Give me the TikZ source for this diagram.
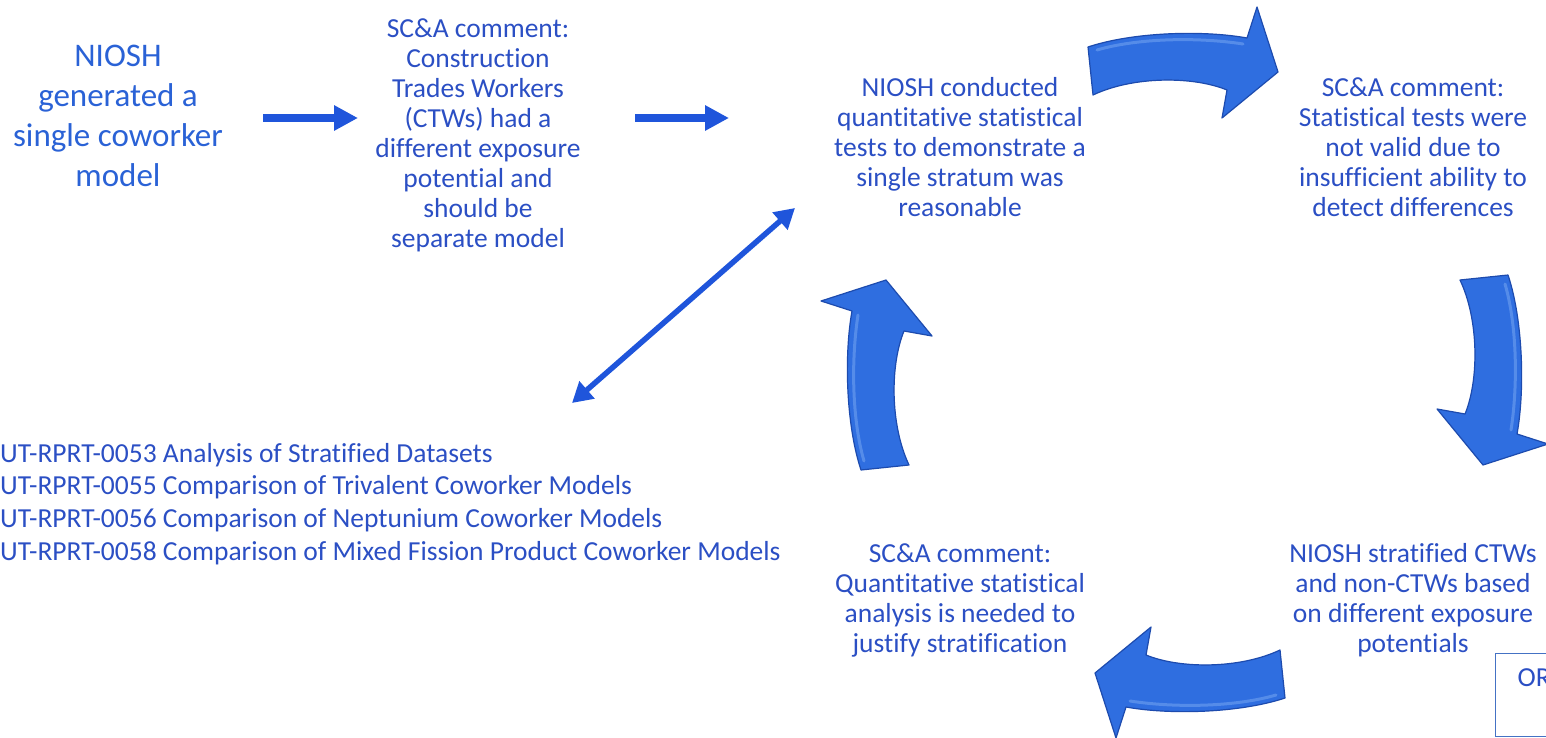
\documentclass[tikz,border=0pt]{standalone}
\usepackage{fontspec}
\setmainfont{Carlito}[Ligatures=NoCommon]
\usetikzlibrary{arrows.meta,positioning}

\definecolor{txtblue}{HTML}{2B4FC4}
\definecolor{headblue}{HTML}{2A62D6}
\definecolor{lineblue}{HTML}{1F55DB}
\definecolor{bandfill}{HTML}{2F6EE0}
\definecolor{bandedge}{HTML}{1D4BAE}
\definecolor{bandlight}{HTML}{6FA0F0}
\definecolor{boxblue}{HTML}{4472C4}

\tikzset{
  stepnote/.style={align=center, text=txtblue, inner sep=0pt,
    font=\fontsize{27.5}{30}\selectfont},
  bignote/.style={align=center, text=headblue, inner sep=0pt,
    font=\fontsize{33}{40}\selectfont},
  flowarrow/.style={draw=lineblue, line width=8pt,
    -{Triangle[length=24pt,width=24pt]}},
  linkarrow/.style={draw=lineblue, line width=5.5pt,
    {Triangle[length=20pt,width=22pt]}-{Triangle[length=20pt,width=22pt]}},
  orbox/.style={draw=boxblue, line width=1.2pt, text=txtblue,
    font=\fontsize{27.5}{30}\selectfont},
  bendarrow/.pic={
    \filldraw[fill=bandfill, draw=bandedge, line width=1.2pt, line join=round]
      (-95,-15) .. controls (-50,-30) and (20,-32) .. (64,-24)
      -- (74,-55) -- (95,10) -- (39,56) -- (44,28)
      .. controls (10,14) and (-50,14) .. (-90,33) -- cycle;
    \draw[bandlight, line width=3pt, line cap=round, opacity=0.6]
      (-86,-12) .. controls (-45,-24) and (15,-25) .. (60,-18);
  }
}

\begin{document}
\begin{tikzpicture}[x=1pt, y=-1pt]
\useasboundingbox (0,0) rectangle (1546,738);

% text blocks
\node[bignote] (gen) at (118,116) {NIOSH\\generated a\\single coworker\\model};
\node[stepnote] (sca1) at (478,135) {SC\&A comment:\\Construction\\Trades Workers\\(CTWs) had a\\different exposure\\potential and\\should be\\separate model};
\node[stepnote] (tests) at (960,147) {NIOSH conducted\\quantitative statistical\\tests to demonstrate a\\single stratum was\\reasonable};
\node[stepnote] (sca2) at (1413,147) {SC\&A comment:\\Statistical tests were\\not valid due to\\insufficient ability to\\detect differences};
\node[stepnote] (strat) at (1413,600) {NIOSH stratified CTWs\\and non-CTWs based\\on different exposure\\potentials};
\node[stepnote] (sca3) at (960,600) {SC\&A comment:\\Quantitative statistical\\analysis is needed to\\justify stratification};
\node[stepnote, align=left, anchor=west, font=\fontsize{27.5}{32.7}\selectfont] (reports) at (0,504)
  {UT-RPRT-0053 Analysis of Stratified Datasets\\
   UT-RPRT-0055 Comparison of Trivalent Coworker Models\\
   UT-RPRT-0056 Comparison of Neptunium Coworker Models\\
   UT-RPRT-0058 Comparison of Mixed Fission Product Coworker Models};
\node[orbox, anchor=north west, inner xsep=22pt, inner ysep=12pt,
  text height=21pt, text depth=38pt, align=left] (orpart) at (1495,653) {OR};

% arrow ends
\coordinate (g1) at (263,118);
\coordinate (s1) at (358,118);
\coordinate (g2) at (635,118);
\coordinate (s2) at (729,118);
\coordinate (t1) at (795,208);
\coordinate (r1) at (572,403);

\draw[flowarrow] (g1) -- (s1);
\draw[flowarrow] (g2) -- (s2);
\draw[linkarrow] (r1) -- (t1);

% the cycle
\pic at (1183,62) {bendarrow};
\pic[rotate=-90] at (1493,370) {bendarrow};
\pic[rotate=180] at (1190,683) {bendarrow};
\pic[rotate=90] at (876,375) {bendarrow};
\end{tikzpicture}
\end{document}
